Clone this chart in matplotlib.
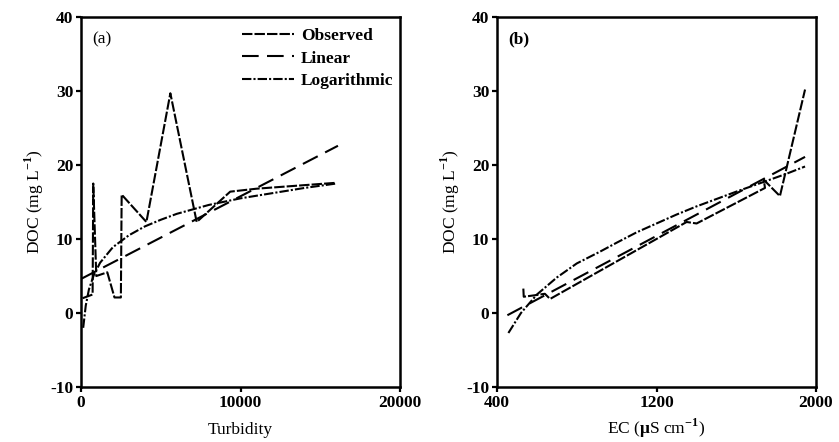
import matplotlib

matplotlib.use("Agg")
import matplotlib.pyplot as plt

# panel (a): DOC vs turbidity
turb_obs = [100, 730, 770, 960, 1650, 2100, 2500, 2550, 4100, 5600, 7250, 9350, 11000, 16000]
doc_obs_a = [2.0, 2.5, 17.5, 5.0, 5.5, 2.1, 2.1, 16.0, 12.3, 29.7, 12.3, 16.4, 16.8, 17.6]
turb_lin = [0, 16100]
doc_lin_a = [4.6, 22.6]
turb_log = [140, 300, 500, 800, 1200, 2000, 3000, 4000, 5000, 6000, 8000, 10000, 12000, 14000, 16000]
doc_log_a = [-2.0, 1.0, 3.2, 5.1, 6.8, 8.9, 10.5, 11.7, 12.6, 13.4, 14.6, 15.5, 16.2, 16.9, 17.5]

# panel (b): DOC vs EC
ec_obs = [532, 534, 590, 640, 666, 1351, 1401, 1744, 1738, 1819, 1945]
doc_obs_b = [3.3, 2.2, 2.4, 2.6, 1.9, 12.3, 12.1, 16.9, 18.0, 15.8, 30.2]
ec_lin = [452, 1945]
doc_lin_b = [-0.3, 21.1]
ec_log = [457, 520, 600, 700, 800, 917, 1000, 1100, 1200, 1300, 1400, 1500, 1600, 1736, 1850, 1945]
doc_log_b = [-2.7, 0.0, 2.5, 4.8, 6.7, 8.3, 9.5, 10.9, 12.1, 13.3, 14.4, 15.4, 16.4, 17.7, 18.8, 19.8]

plt.rcParams.update(
    {
        "font.family": "serif",
        "font.serif": ["Liberation Serif", "DejaVu Serif"],
        "font.size": 12.5,
        "font.weight": "bold",
        "axes.unicode_minus": False,
        "axes.linewidth": 1.8,
        "xtick.major.width": 1.6,
        "ytick.major.width": 1.6,
        "xtick.major.size": 3.5,
        "ytick.major.size": 3.5,
        "xtick.major.pad": 2.5,
        "ytick.major.pad": 2,
        "mathtext.fontset": "custom",
        "mathtext.rm": "Liberation Serif",
        "mathtext.bf": "Liberation Serif:bold",
    }
)

OBS = dict(color="black", lw=1.5, dashes=(5, 1.0))
LIN = dict(color="black", lw=1.5, dashes=(8, 4))
LOG = dict(color="black", lw=1.5, dashes=(4.5, 1.0, 1.0, 1.0))

fig = plt.figure(figsize=(8.39, 4.42), dpi=100)
ax_a = fig.add_axes([0.0965, 0.1244, 0.3805, 0.8371])
ax_b = fig.add_axes([0.5924, 0.1244, 0.3802, 0.8371])

ax_a.plot(turb_obs, doc_obs_a, label="Observed", **OBS)
ax_a.plot(turb_lin, doc_lin_a, label="Linear", **LIN)
ax_a.plot(turb_log, doc_log_a, label="Logarithmic", **LOG)
ax_a.set_xlim(0, 20000)
ax_a.set_xticks([0, 10000, 20000])
ax_a.set_xlabel("Turbidity", labelpad=8)
ax_a.text(0.035, 0.94, "(a)", transform=ax_a.transAxes, fontweight="normal", va="center")
ax_a.legend(loc="upper right", frameon=False, handlelength=3.0, handletextpad=0.4,
            labelspacing=0.38, borderaxespad=0.0, bbox_to_anchor=(1.0, 0.99))

ax_b.plot(ec_obs, doc_obs_b, **OBS)
ax_b.plot(ec_lin, doc_lin_b, **LIN)
ax_b.plot(ec_log, doc_log_b, **LOG)
ax_b.set_xlim(400, 2000)
ax_b.set_xticks([400, 1200, 2000])
ax_b.set_xlabel(r"EC ($\mathbf{\mu}$S cm$^{\mathbf{-1}}$)", labelpad=4)
ax_b.text(0.035, 0.94, "(b)", transform=ax_b.transAxes, va="center")

for ax in (ax_a, ax_b):
    ax.set_ylim(-10, 40)
    ax.set_yticks([-10, 0, 10, 20, 30, 40])
    ax.set_ylabel(r"DOC (mg L$^{\mathbf{-1}}$)", labelpad=3)

fig.savefig("out.png", dpi=100)
